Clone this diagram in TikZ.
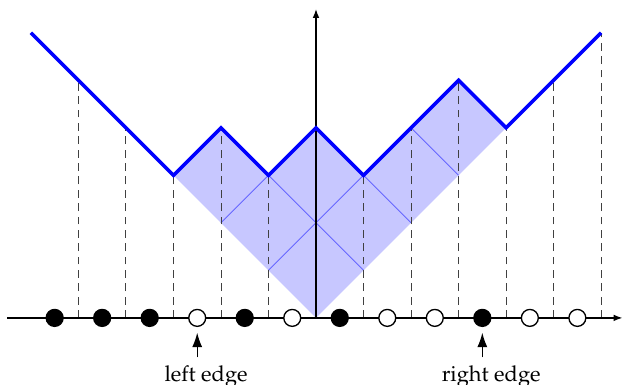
\documentclass[tikz,border=0pt]{standalone}
\usepackage[T1]{fontenc}
\usepackage{mathpazo}
\usetikzlibrary{arrows.meta,positioning}
\definecolor{WalkBlue}{RGB}{0,0,255}
\tikzset{
  axis/.style={semithick, -{Latex[length=4pt,width=3pt]}},
  walk/.style={WalkBlue, line width=1.6pt, line join=miter},
  tile/.style={fill=WalkBlue!22},
  tileline/.style={WalkBlue!60, thin},
  level/.style={black!75, thin, dash pattern=on 3.5pt off 2.5pt},
  fulldot/.style={circle, draw, semithick, fill=black, minimum size=7.6pt, inner sep=0pt},
  opendot/.style={circle, draw, semithick, fill=white, minimum size=7.6pt, inner sep=0pt},
  edgelabel/.style={font=\fontsize{9.8}{11}\selectfont, xshift=4pt},
  pointer/.style={semithick, -{Latex[length=6.5pt,width=4.5pt]}, shorten >=2.5pt}
}

\begin{document}
\begin{tikzpicture}[x=0.75cm, y=0.75cm]
  \useasboundingbox (-6.65,-1.41) rectangle (6.46,6.69);
  % heights of the walk
  \foreach \x/\h in {-6/6,-5/5,-4/4,-3/3,-2/4,-1/3,0/4,1/3,2/4,3/5,4/4,5/5,6/6}
    \coordinate (p\x) at (\x,\h);
  \coordinate (o) at (0,0);
  \coordinate (xl) at (-6.5,0);
  \coordinate (xr) at (6.45,0);
  \coordinate (yt) at (0,6.5);

  \fill[tile] (p-3) -- (p-2) -- (p-1) -- (p0) -- (p1) -- (p3) -- (p4) -- (o) -- cycle;
  \draw[tileline] (p-1) -- (1,1) (p1) -- (2,2) (p2) -- (3,3)
    (-1,1) -- (p1) (-2,2) -- (p-1);

  \foreach \x in {-5,-4,-3,-2,-1,1,2,3,4,5,6}
    \draw[level] (\x,0) -- (p\x);

  \draw[axis] (xl) -- (xr);
  \draw[axis] (o) -- (yt);

  \draw[walk] (p-6) -- (p-5) -- (p-4) -- (p-3) -- (p-2) -- (p-1) -- (p0)
    -- (p1) -- (p2) -- (p3) -- (p4) -- (p5) -- (p6);

  \foreach \i/\s in {1/fulldot,2/fulldot,3/fulldot,4/opendot,5/fulldot,6/opendot,
      7/fulldot,8/opendot,9/opendot,10/fulldot,11/opendot,12/opendot}
    \node[\s] (d\i) at (\i-6.5,0) {};

  \node[edgelabel, below=4.8mm of d4] (leftlbl) {left edge};
  \node[edgelabel, below=4.8mm of d10] (rightlbl) {right edge};
  \draw[pointer] (leftlbl.north -| d4) -- (d4);
  \draw[pointer] (rightlbl.north -| d10) -- (d10);
\end{tikzpicture}
\end{document}
